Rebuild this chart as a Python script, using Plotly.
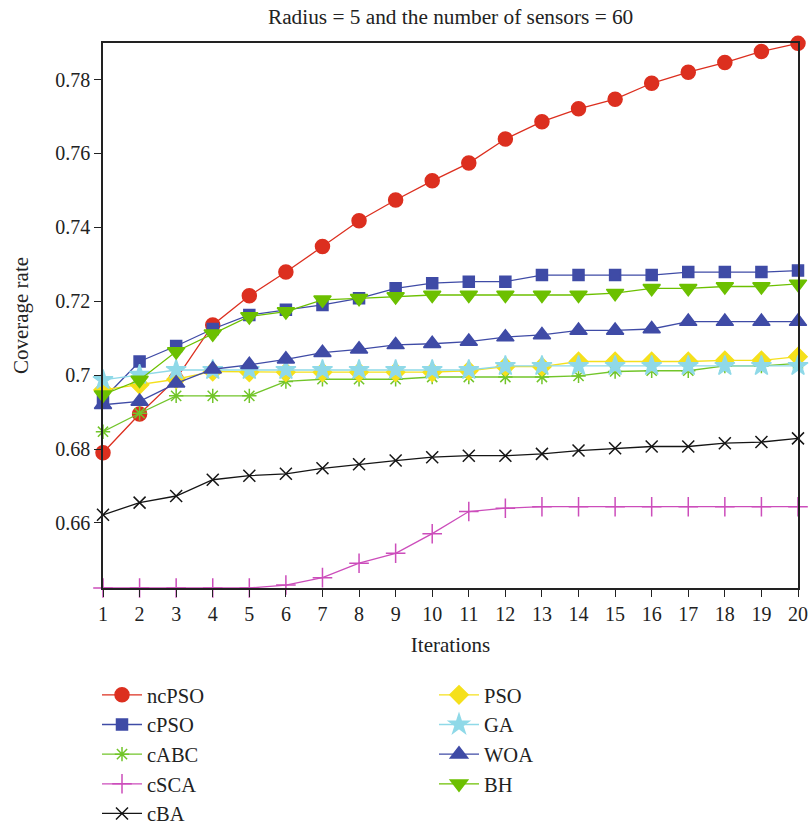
import plotly.graph_objects as go

# Coverage rate per iteration for each algorithm
iterations = list(range(1, 21))

ncPSO = [0.6790, 0.6895, 0.6990, 0.7136, 0.7215, 0.7279, 0.7348, 0.7418, 0.7474, 0.7526,
         0.7574, 0.7639, 0.7686, 0.7721, 0.7747, 0.7790, 0.7820, 0.7846, 0.7876, 0.7898]
cPSO = [0.6935, 0.7037, 0.7079, 0.7125, 0.7163, 0.7177, 0.7190, 0.7208, 0.7235, 0.7249,
        0.7253, 0.7253, 0.7271, 0.7271, 0.7271, 0.7271, 0.7279, 0.7279, 0.7279, 0.7283]
cABC = [0.6847, 0.6897, 0.6944, 0.6944, 0.6944, 0.6983, 0.6989, 0.6989, 0.6989, 0.6995,
        0.6995, 0.6995, 0.6995, 0.6998, 0.7010, 0.7012, 0.7012, 0.7025, 0.7025, 0.7032]
cSCA = [0.6424, 0.6424, 0.6424, 0.6424, 0.6424, 0.6432, 0.6452, 0.6491, 0.6518, 0.6571,
        0.6631, 0.6640, 0.6644, 0.6644, 0.6644, 0.6644, 0.6644, 0.6644, 0.6644, 0.6644]
cBA = [0.6622, 0.6655, 0.6673, 0.6717, 0.6728, 0.6733, 0.6748, 0.6759, 0.6769, 0.6778,
       0.6782, 0.6782, 0.6787, 0.6796, 0.6802, 0.6807, 0.6807, 0.6816, 0.6819, 0.6829]
PSO = [0.6960, 0.6974, 0.6989, 0.7010, 0.7008, 0.7008, 0.7008, 0.7008, 0.7008, 0.7008,
       0.7012, 0.7023, 0.7023, 0.7037, 0.7037, 0.7037, 0.7037, 0.7040, 0.7040, 0.7050]
GA = [0.6987, 0.7001, 0.7014, 0.7014, 0.7014, 0.7014, 0.7014, 0.7014, 0.7014, 0.7014,
      0.7014, 0.7025, 0.7025, 0.7025, 0.7025, 0.7025, 0.7025, 0.7025, 0.7025, 0.7025]
WOA = [0.6920, 0.6929, 0.6978, 0.7016, 0.7028, 0.7043, 0.7061, 0.7070, 0.7082, 0.7085,
       0.7091, 0.7103, 0.7109, 0.7121, 0.7121, 0.7125, 0.7145, 0.7145, 0.7145, 0.7145]
BH = [0.6947, 0.6987, 0.7064, 0.7112, 0.7159, 0.7172, 0.7204, 0.7208, 0.7213, 0.7217,
      0.7217, 0.7217, 0.7217, 0.7217, 0.7222, 0.7235, 0.7235, 0.7240, 0.7240, 0.7247]

y_ticks = [0.66, 0.68, 0.70, 0.72, 0.74, 0.76, 0.78]

FONT = "Liberation Serif"
INK = "#222222"

series = [
    # name, values, color, symbol, size, legend
    ("ncPSO", ncPSO, "#dc2f1f", "circle", 14, "legend"),
    ("cPSO", cPSO, "#3f4ba6", "square", 11, "legend"),
    ("cABC", cABC, "#72c52a", "asterisk-open", 12, "legend"),
    ("cSCA", cSCA, "#cc4dbb", "cross-thin-open", 14, "legend"),
    ("cBA", cBA, "#151515", "x-thin-open", 12, "legend"),
    ("PSO", PSO, "#f5e01c", "diamond", 14, "legend2"),
    ("GA", GA, "#8fd9e8", "star", 15, "legend2"),
    ("WOA", WOA, "#3f4ba6", "triangle-up", 15, "legend2"),
    ("BH", BH, "#6cc000", "triangle-down", 15, "legend2"),
]

fig = go.Figure()
for name, vals, color, symbol, size, leg in series:
    fig.add_trace(go.Scatter(
        x=iterations, y=vals, name=name, mode="lines+markers",
        line=dict(color=color, width=1.3),
        marker=dict(symbol=symbol, size=size, color=color,
                    line=dict(color=color, width=1.5)),
        cliponaxis=False, legend=leg, legendgroup=name,
    ))

axis_line = dict(showline=True, linecolor=INK, linewidth=1.5, mirror=True,
                 ticks="outside", ticklen=7, tickwidth=1.3, tickcolor=INK,
                 showgrid=False, zeroline=False,
                 tickfont=dict(family=FONT, size=20, color=INK))

plot_h = 826 - 43 - 238
legend_top = (588 - 675) / plot_h

legend_style = dict(xref="paper", yref="paper", y=legend_top,
                    xanchor="left", yanchor="top", bgcolor="rgba(0,0,0,0)",
                    font=dict(family=FONT, size=20.5, color=INK),
                    itemwidth=40, tracegroupgap=0)

fig.update_layout(
    width=809, height=826,
    margin=dict(l=103, r=11, t=43, b=238, autoexpand=False),
    plot_bgcolor="white", paper_bgcolor="white",
    title=dict(text="Radius = 5 and the number of sensors = 60",
               font=dict(family=FONT, size=21.3, color=INK),
               x=0.557, xanchor="center", xref="container",
               y=1 - 17 / 826, yanchor="middle", yref="container"),
    xaxis=dict(range=[1, 20], tickmode="array", tickvals=iterations,
               title=dict(text="Iterations", font=dict(family=FONT, size=21, color=INK),
                          standoff=14),
               **axis_line),
    yaxis=dict(range=[0.6424, 0.7899], tickmode="array", tickvals=y_ticks,
               title=dict(text="Coverage rate", font=dict(family=FONT, size=21, color=INK),
                          standoff=21),
               **axis_line),
    legend=dict(x=(97 - 103) / 695, **legend_style),
    legend2=dict(x=(434 - 103) / 695, **legend_style),
)

fig.write_html("out.html")
